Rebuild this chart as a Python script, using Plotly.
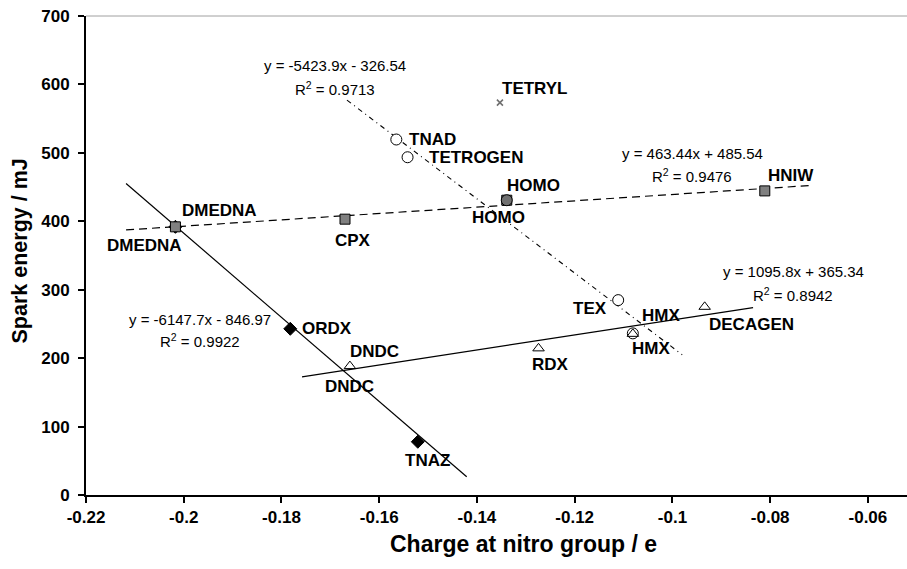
import plotly.graph_objects as go

# ---------------- data ----------------
sq_names = ["DMEDNA", "CPX", "HOMO", "HNIW"]
sq_x = [-0.2017, -0.1670, -0.1339, -0.0811]
sq_y = [391.9, 403.1, 430.8, 444.4]

ci_names = ["TNAD", "TETROGEN", "HOMO", "TEX", "HMX"]
ci_x = [-0.1565, -0.1542, -0.1339, -0.1111, -0.1081]
ci_y = [519.5, 493.6, 430.8, 284.8, 236.2]

tr_names = ["DNDC", "RDX", "HMX", "DECAGEN"]
tr_x = [-0.1660, -0.1274, -0.1081, -0.0934]
tr_y = [188.4, 214.3, 235.5, 275.0]

di_names = ["DMEDNA", "ORDX", "TNAZ"]
di_x = [-0.2017, -0.1782, -0.1521]
di_y = [391.9, 242.9, 77.8]

tet_names = ["TETRYL"]
tet_x = [-0.1353]
tet_y = [573.5]

# linear fits: squares, circles, triangles, diamonds
fit_slopes = [463.44, -5423.9, 1095.8, -6147.7]
fit_intercepts = [485.54, -326.54, 365.34, -846.97]
fit_r2 = [0.9476, 0.9713, 0.8942, 0.9922]
fit_x0 = [-0.2118, -0.1666, -0.1758, -0.2118]
fit_x1 = [-0.0712, -0.0980, -0.0835, -0.1421]

x_ticks = [-0.22, -0.2, -0.18, -0.16, -0.14, -0.12, -0.1, -0.08, -0.06]
x_ticklabels = ["-0.22", "-0.2", "-0.18", "-0.16", "-0.14", "-0.12", "-0.1", "-0.08", "-0.06"]
y_ticks = [0, 100, 200, 300, 400, 500, 600, 700]
y_ticklabels = ["0", "100", "200", "300", "400", "500", "600", "700"]

# ---------------- styles ----------------
FONT = "Arial, Liberation Sans, Helvetica, sans-serif"
fit_dash = ["8px,5px", "5px,4px,1px,4px", "solid", "solid"]
fit_width = [1.2, 1.1, 1.2, 1.2]

fig = go.Figure()

for i in range(4):
    xs = [fit_x0[i], fit_x1[i]]
    ys = [fit_slopes[i] * v + fit_intercepts[i] for v in xs]
    fig.add_trace(go.Scatter(x=xs, y=ys, mode="lines",
                             line=dict(color="black", width=fit_width[i], dash=fit_dash[i]),
                             hoverinfo="skip", showlegend=False))

fig.add_trace(go.Scatter(x=di_x, y=di_y, mode="markers", text=di_names,
                         marker=dict(symbol="diamond", size=10, color="black",
                                     line=dict(color="black", width=1)),
                         showlegend=False))
fig.add_trace(go.Scatter(x=sq_x, y=sq_y, mode="markers", text=sq_names,
                         marker=dict(symbol="square", size=10, color="#808080",
                                     line=dict(color="black", width=1)),
                         showlegend=False))
ci_fill = ["#707070" if n == "HOMO" else "white" for n in ci_names]
fig.add_trace(go.Scatter(x=ci_x, y=ci_y, mode="markers", text=ci_names,
                         marker=dict(symbol="circle", size=11, color=ci_fill,
                                     line=dict(color="black", width=1)),
                         showlegend=False))
fig.add_trace(go.Scatter(x=tr_x, y=tr_y, mode="markers", text=tr_names,
                         marker=dict(symbol="triangle-up-open", size=10, color="black",
                                     line=dict(color="black", width=1)),
                         showlegend=False))
fig.add_trace(go.Scatter(x=tet_x, y=tet_y, mode="markers", text=tet_names,
                         marker=dict(symbol="x-thin-open", size=6, color="#707070",
                                     line=dict(color="#707070", width=1.6)),
                         showlegend=False))

# point labels: (series, index, dx px, dy px)
series = {"sq": (sq_names, sq_x, sq_y), "ci": (ci_names, ci_x, ci_y),
          "tr": (tr_names, tr_x, tr_y), "di": (di_names, di_x, di_y),
          "tet": (tet_names, tet_x, tet_y)}
label_offsets = [
    ("sq", 0, 44, 16), ("di", 0, -31, -19), ("sq", 1, 8, -21), ("sq", 2, 27, 15),
    ("ci", 2, -8, -17), ("sq", 3, 26, 15), ("tet", 0, 35, 14), ("ci", 0, 36, 0),
    ("ci", 1, 68, 0), ("ci", 3, -28, -8), ("ci", 4, 28, 18), ("tr", 2, 18, -15),
    ("tr", 3, 47, -18), ("tr", 1, 12, -16), ("di", 1, 37, 0), ("tr", 0, 25, 15),
    ("tr", 0, 0, -20), ("di", 2, 10, -19),
]
annotations = []
for key, idx, dx, dy in label_offsets:
    names, xs, ys = series[key]
    annotations.append(dict(x=xs[idx], y=ys[idx], xref="x", yref="y",
                            text="<b>" + names[idx] + "</b>",
                            showarrow=False, xshift=dx, yshift=dy,
                            xanchor="center", yanchor="middle",
                            font=dict(family=FONT, size=17, color="black")))

# equation labels (paper positions): squares, circles, triangles, diamonds
eq_pos = [(0.7382, 0.7135, 0.6662), (0.3035, 0.8971, 0.8492),
          (0.8612, 0.4659, 0.4194), (0.1392, 0.3672, 0.3219)]
for i in range(4):
    b = fit_intercepts[i]
    sign = "+" if b >= 0 else "-"
    eq = f"y = {fit_slopes[i]}x {sign} {abs(b)}"
    px, py1, py2 = eq_pos[i]
    annotations.append(dict(x=px, y=py1, xref="paper", yref="paper", text=eq,
                            showarrow=False, xanchor="center", yanchor="middle",
                            font=dict(family=FONT, size=15, color="black")))
    annotations.append(dict(x=px, y=py2, xref="paper", yref="paper",
                            text=f"R<sup>2</sup> = {fit_r2[i]}",
                            showarrow=False, xanchor="center", yanchor="middle",
                            font=dict(family=FONT, size=15, color="black")))

annotations.append(dict(x=0.5325, y=-0.102, xref="paper", yref="paper",
                        text="<b>Charge at nitro group / e</b>", showarrow=False,
                        xanchor="center", yanchor="middle",
                        font=dict(family=FONT, size=23, color="black")))
annotations.append(dict(x=-0.08, y=0.509, xref="paper", yref="paper",
                        text="<b>Spark energy / mJ</b>", showarrow=False, textangle=-90,
                        xanchor="center", yanchor="middle",
                        font=dict(family=FONT, size=21.5, color="black")))

fig.update_layout(
    width=907, height=569,
    margin=dict(l=86, r=0, t=16, b=74),
    paper_bgcolor="white", plot_bgcolor="white",
    annotations=annotations,
    shapes=[dict(type="line", xref="paper", yref="paper", x0=0, x1=1, y0=1, y1=1,
                 line=dict(color="#a0a0a0", width=1))],
    xaxis=dict(range=[-0.22, -0.052], tickvals=x_ticks,
               ticktext=["<b>" + t + "</b>" for t in x_ticklabels],
               showgrid=False, zeroline=False, showline=True, linecolor="black", linewidth=2,
               ticks="outside", ticklen=6, tickwidth=2, tickcolor="black",
               ticklabelstandoff=0,
               tickfont=dict(family=FONT, size=17, color="black")),
    yaxis=dict(range=[0, 700], tickvals=y_ticks,
               ticktext=["<b>" + t + "</b>" for t in y_ticklabels],
               showgrid=False, zeroline=False, showline=True, linecolor="black", linewidth=2,
               ticks="outside", ticklen=6, tickwidth=2, tickcolor="black",
               ticklabelstandoff=5,
               tickfont=dict(family=FONT, size=17, color="black")),
)

fig.write_html("out.html")
